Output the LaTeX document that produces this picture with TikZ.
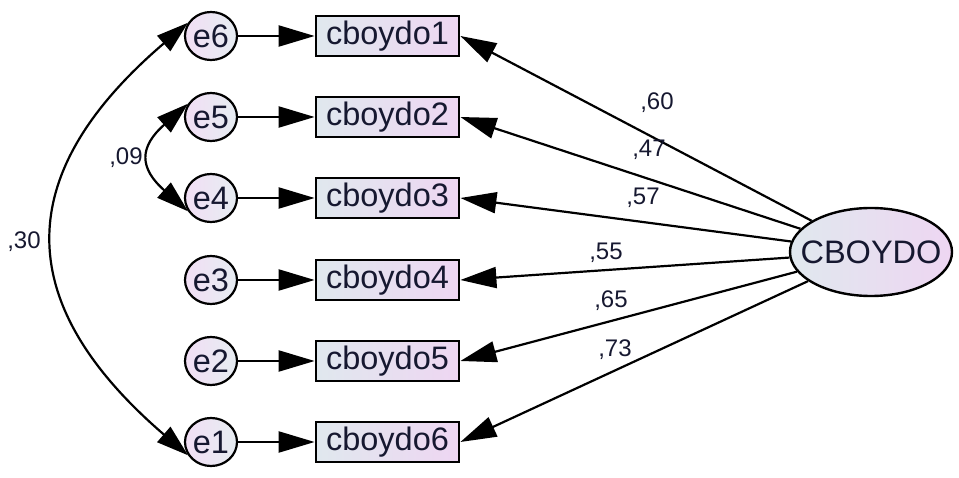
\documentclass[tikz,border=0pt]{standalone}
\usepackage{fontspec}
\setmainfont{Liberation Sans}
\usetikzlibrary{arrows.meta,shapes.geometric}
\definecolor{inkc}{RGB}{22,24,48}
\definecolor{fillL}{RGB}{224,232,238}
\definecolor{fillR}{RGB}{238,214,242}
\tikzset{
  obsbox/.style={draw=black, line width=2.8pt, rectangle, minimum width=143pt,
    minimum height=40pt, inner sep=0pt, left color=fillL, right color=fillR,
    text=inkc, font=\fontsize{32.5}{36}\selectfont},
  errnode/.style={draw=black, line width=2.2pt, ellipse, minimum width=52pt,
    minimum height=48pt, inner sep=0pt, shading angle=45, left color=fillR!80!white,
    right color=fillL!80!white, text=inkc, font=\fontsize{32.5}{36}\selectfont},
  latent/.style={draw=black, line width=2.4pt, ellipse, minimum width=162pt,
    minimum height=88pt, inner sep=0pt, left color=fillL, right color=fillR,
    text=inkc, font=\fontsize{32.5}{36}\selectfont},
  path/.style={line width=2.2pt, -{Triangle[length=36pt,width=21pt]}},
  covpath/.style={line width=2.2pt, {Triangle[length=32pt,width=20pt]}-{Triangle[length=32pt,width=20pt]}},
  coef/.style={text=inkc, font=\fontsize{24}{28}\selectfont, inner sep=0pt}
}
\begin{document}
\begin{tikzpicture}[x=1pt,y=1pt]
  \useasboundingbox (0,0) rectangle (959,477);
  % observed indicators and their error terms
  \foreach \i/\ee/\yy in {1/6/441, 2/5/360, 3/4/279, 4/3/197, 5/2/116, 6/1/35} {
    \node[obsbox] (c\i) at (387.5,\yy) {cboydo\i};
    \node[errnode] (e\ee) at (211,\yy) {\makebox[0pt]{e\ee}};
    \draw[path] (e\ee) -- (c\i);
  }
  % latent factor
  \node[latent] (F) at (871,225) {\makebox[0pt]{CBOYDO}};
  % factor loadings
  \foreach \i in {1,...,6} {
    \draw[path] (F) -- (c\i.east);
  }
  \node[coef] (l1) at (657,374) {,60};
  \node[coef] (l2) at (649,327) {,47};
  \node[coef] (l3) at (643,279) {,57};
  \node[coef] (l4) at (606,224) {,55};
  \node[coef] (l5) at (611,176) {,65};
  \node[coef] (l6) at (615,127) {,73};
  % error covariances
  \draw[covpath] (e6.150) .. controls (11,303) and (11,174) .. (e1.210);
  \draw[covpath] (e5.150) .. controls (139,330) and (139,309) .. (e4.210);
  \node[coef] (k1) at (24,235) {,30};
  \node[coef] (k2) at (126,319) {,09};
\end{tikzpicture}
\end{document}
